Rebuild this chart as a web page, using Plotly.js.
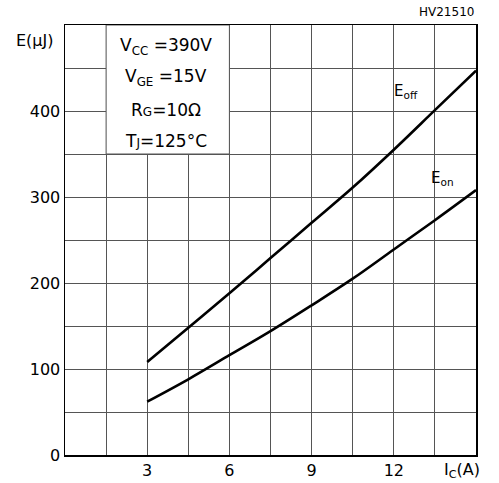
<!DOCTYPE html>
<html>
<head>
<meta charset="utf-8">
<script src="https://cdn.plot.ly/plotly-3.0.1.min.js"></script>
<style>html,body{margin:0;padding:0;background:#fff;}#chart{width:499px;height:483px;}</style>
</head>
<body>
<div id="chart"></div>
<script>
// Collector current Ic (A)
const current = [3, 4.5, 6, 7.5, 9, 10.5, 12, 13.5, 15];
// Turn-off energy (uJ)
const eoff = [108, 148, 188, 229, 270, 311, 355, 401, 447];
// Turn-on energy (uJ)
const eon = [62, 88, 116, 144, 174, 205, 239, 273, 308];
const xTicks = [3, 6, 9, 12];
const yTicks = [0, 100, 200, 300, 400];
const conditions = ["V<sub>CC</sub> =390V", "V<sub>GE</sub> =15V", "R<span style=\"font-size:12px\">G</span>=10Ω", "T<span style=\"font-size:12px\">J</span>=125°C"];

const FONT = "DejaVu Sans, sans-serif";
const GRID = "#555555";

const traces = [
  {x: current, y: eoff, mode: "lines", line: {color: "#000", width: 2.6, shape: "spline", smoothing: 1}, hoverinfo: "skip"},
  {x: current, y: eon, mode: "lines", line: {color: "#000", width: 2.6, shape: "spline", smoothing: 1}, hoverinfo: "skip"}
];

const condY = [0.951, 0.877, 0.802, 0.730];
const annotations = conditions.map((t, i) => ({
  text: t, xref: "paper", yref: "paper", x: 0.245, y: condY[i],
  xanchor: "center", yanchor: "middle", showarrow: false,
  font: {family: FONT, size: 17, color: "#000"}
}));
annotations.push(
  {text: "E(μJ)", xref: "paper", yref: "paper", x: -0.072, y: 0.965, xanchor: "center", yanchor: "middle", showarrow: false, font: {family: FONT, size: 16, color: "#000"}},
  {text: "I<sub>C</sub>(A)", xref: "paper", yref: "paper", x: 0.966, y: -0.037, xanchor: "center", yanchor: "middle", showarrow: false, font: {family: FONT, size: 16, color: "#000"}},
  {text: "HV21510", xref: "paper", yref: "paper", x: 1.0, y: 1.03, xanchor: "right", yanchor: "middle", showarrow: false, font: {family: FONT, size: 12, color: "#000"}},
  {text: "E<sub>off</sub>", xref: "paper", yref: "paper", x: 0.83, y: 0.845, xanchor: "center", yanchor: "middle", showarrow: false, font: {family: FONT, size: 15, color: "#000"}},
  {text: "E<sub>on</sub>", xref: "paper", yref: "paper", x: 0.918, y: 0.643, xanchor: "center", yanchor: "middle", showarrow: false, font: {family: FONT, size: 15, color: "#000"}}
);

const layout = {
  width: 499, height: 483,
  margin: {l: 65, r: 23, t: 25, b: 28, pad: 0},
  paper_bgcolor: "#fff", plot_bgcolor: "#fff",
  showlegend: false,
  xaxis: {
    range: [0, 15], tickvals: xTicks, ticktext: xTicks.map(String),
    showgrid: true, gridcolor: GRID, gridwidth: 1,
    minor: {dtick: 1.5, tick0: 0, showgrid: true, gridcolor: GRID, gridwidth: 1},
    showline: true, linecolor: "#000", linewidth: 1.5, mirror: true,
    ticks: "", zeroline: false, fixedrange: true,
    tickfont: {family: FONT, size: 16, color: "#000"}
  },
  yaxis: {
    range: [0, 500], tickvals: yTicks, ticktext: yTicks.map(String),
    showgrid: true, gridcolor: GRID, gridwidth: 1,
    minor: {dtick: 50, tick0: 0, showgrid: true, gridcolor: GRID, gridwidth: 1},
    showline: true, linecolor: "#000", linewidth: 1.5, mirror: true,
    ticks: "", zeroline: false, fixedrange: true,
    tickfont: {family: FONT, size: 16, color: "#000"}
  },
  shapes: [
    {type: "rect", xref: "x", yref: "y", x0: 1.5, x1: 6, y0: 350, y1: 500,
     fillcolor: "#fff", line: {color: GRID, width: 1}, layer: "above"}
  ],
  annotations: annotations
};

Plotly.newPlot("chart", traces, layout, {staticPlot: true, displayModeBar: false});
</script>
</body>
</html>
